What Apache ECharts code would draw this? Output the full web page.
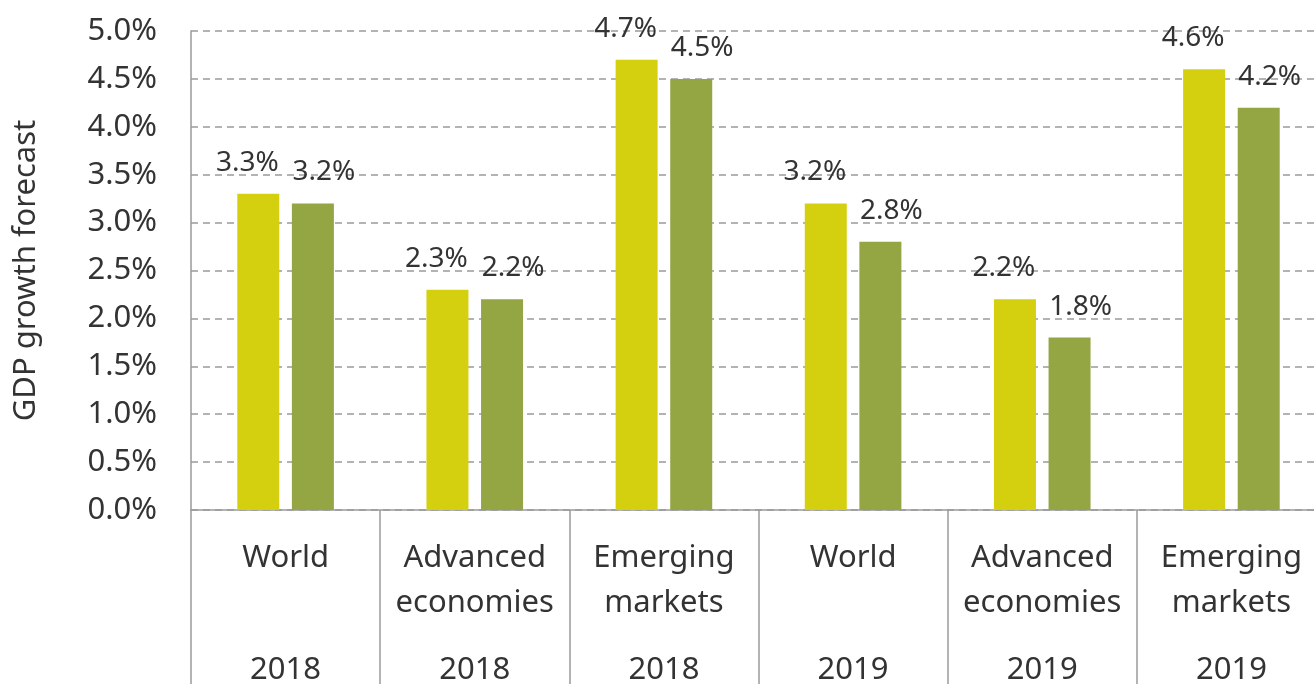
<!DOCTYPE html>
<html>
<head>
<meta charset="utf-8">
<script src="https://cdn.jsdelivr.net/npm/echarts@6/dist/echarts.min.js"></script>
<style>
html,body{margin:0;padding:0;overflow:hidden;background:#fff;}
#chart{width:1314px;height:684px;}
</style>
</head>
<body>
<div id="chart"></div>
<script>
const categories = ['World', 'Advanced\neconomies', 'Emerging\nmarkets', 'World', 'Advanced\neconomies', 'Emerging\nmarkets'];
const years = ['2018', '2018', '2018', '2019', '2019', '2019'];
const previousForecast = [3.3, 2.3, 4.7, 3.2, 2.2, 4.6];
const latestForecast = [3.2, 2.2, 4.5, 2.8, 1.8, 4.2];
const yTicks = { min: 0, max: 5, interval: 0.5 };

const FONT = '"Noto Sans", "Open Sans", sans-serif';
const TEXT = '#333333';
const AXIS = '#9a9a9a';

const chart = echarts.init(document.getElementById('chart'), null, { renderer: 'canvas' });
const pct = v => Number(v).toFixed(1) + '%';

chart.setOption({
  animation: false,
  textStyle: { fontFamily: FONT },
  grid: { left: 191, right: -12, top: 31, bottom: 174, containLabel: false, outerBoundsMode: 'none' },
  xAxis: [
    {
      type: 'category',
      data: categories,
      axisLine: { show: true, lineStyle: { color: AXIS, width: 1.5 } },
      axisTick: { show: true, interval: 0, alignWithLabel: false, length: 180, lineStyle: { color: AXIS, width: 1.5 } },
      axisLabel: { interval: 0, fontFamily: FONT, fontSize: 31, lineHeight: 45, color: TEXT, margin: 26 }
    },
    {
      type: 'category',
      data: years,
      position: 'bottom',
      axisLine: { show: false },
      axisTick: { show: false },
      axisLabel: { interval: 0, fontFamily: FONT, fontSize: 31, lineHeight: 45, color: TEXT, margin: 138 }
    }
  ],
  yAxis: {
    type: 'value',
    min: yTicks.min, max: yTicks.max, interval: yTicks.interval,
    name: 'GDP growth forecast',
    nameLocation: 'middle',
    nameGap: 149,
    nameTextStyle: { fontFamily: FONT, fontSize: 31, color: TEXT },
    axisLine: { show: true, lineStyle: { color: AXIS, width: 1.5 } },
    axisTick: { show: false },
    axisLabel: { fontFamily: FONT, fontSize: 31, color: TEXT, margin: 34, formatter: pct },
    splitLine: { show: true, lineStyle: { color: AXIS, width: 1.5, type: [7, 5] } }
  },
  series: [
    {
      name: 'Previous forecast',
      type: 'bar',
      xAxisIndex: 0,
      data: previousForecast,
      barWidth: 42,
      barGap: '30%',
      itemStyle: { color: '#d4d00f' },
      label: { show: true, position: 'top', distance: 17, offset: [-11, 0], formatter: p => pct(p.value), fontFamily: FONT, fontSize: 28, lineHeight: 28, color: TEXT }
    },
    {
      name: 'Latest forecast',
      type: 'bar',
      xAxisIndex: 0,
      data: latestForecast,
      barWidth: 42,
      barGap: '30%',
      itemStyle: { color: '#94a544' },
      label: { show: true, position: 'top', distance: 17, offset: [11, 0], formatter: p => pct(p.value), fontFamily: FONT, fontSize: 28, lineHeight: 28, color: TEXT }
    }
  ]
});
</script>
</body>
</html>
